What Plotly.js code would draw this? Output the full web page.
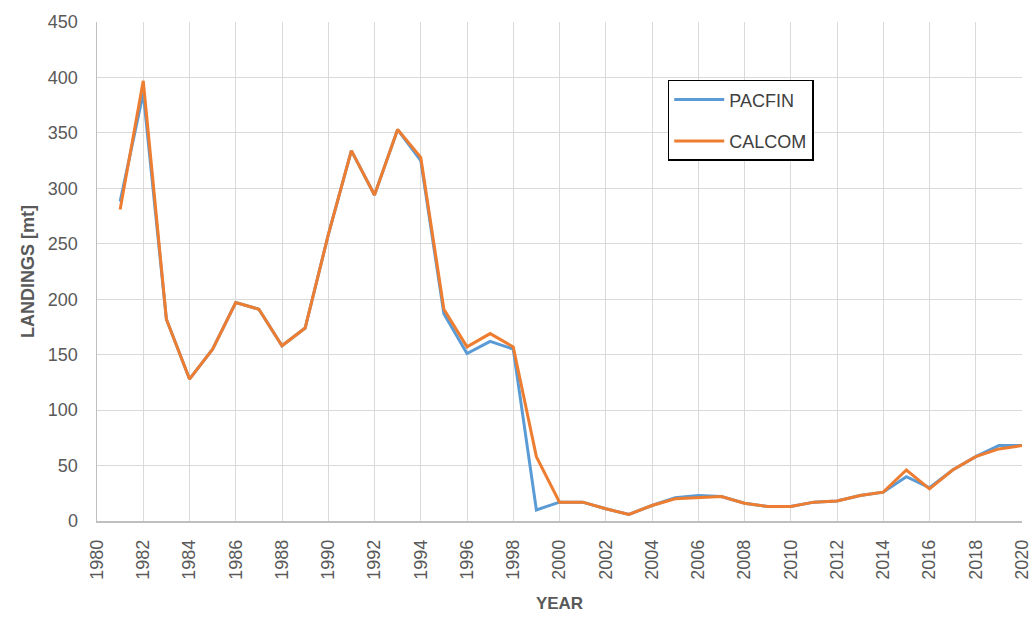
<!DOCTYPE html>
<html>
<head>
<meta charset="utf-8">
<script src="https://cdn.plot.ly/plotly-3.0.1.min.js"></script>
<style>html,body{margin:0;padding:0;background:#fff;}#chart{width:1034px;height:617px;}</style>
</head>
<body>
<div id="chart"></div>
<script>
const years = [1981,1982,1983,1984,1985,1986,1987,1988,1989,1990,1991,1992,1993,1994,1995,1996,1997,1998,1999,2000,2001,2002,2003,2004,2005,2006,2007,2008,2009,2010,2011,2012,2013,2014,2015,2016,2017,2018,2019,2020];
const pacfin = [288,386,182,128,155,197,191,158,174,258,334,294,353,325,187,151,162,155,10,17,17,11,6,14,21,23,22,16,13,13,17,18,23,26,40,30,46,58,68,68];
const calcom = [281,397,182,128,155,197,191,158,174,258,334,294,353,328,191,157,169,157,58,17,17,11,6,14,20,21,22,16,13,13,17,18,23,26,46,29,46,58,65,68];
const xTicks = [1980,1982,1984,1986,1988,1990,1992,1994,1996,1998,2000,2002,2004,2006,2008,2010,2012,2014,2016,2018,2020];
const yTicks = [0,50,100,150,200,250,300,350,400,450];

const font = "'Liberation Sans', Arial, sans-serif";
const traces = [
  {x: years, y: pacfin, name: 'PACFIN', type: 'scatter', mode: 'lines', line: {color: '#5B9BD5', width: 3}, legendgroup: 'a'},
  {x: years, y: calcom, name: 'CALCOM', type: 'scatter', mode: 'lines', line: {color: '#ED7D31', width: 3}, legendgroup: 'b'}
];
const layout = {
  width: 1034, height: 617,
  margin: {l: 97, r: 12, t: 22, b: 96},
  paper_bgcolor: '#fff', plot_bgcolor: '#fff',
  font: {family: font, color: '#595959', size: 17},
  showlegend: true,
  legend: {x: 0.617, y: 0.884, xanchor: 'left', yanchor: 'top', bordercolor: '#000', borderwidth: 1.5,
           font: {size: 18, color: '#404040'}, tracegroupgap: 15, bgcolor: '#fff', itemwidth: 50},
  xaxis: {range: [1980, 2020], tickvals: xTicks, ticktext: xTicks.map(String), tickangle: -90,
          showgrid: true, gridcolor: '#d9d9d9', gridwidth: 1, zeroline: false,
          showline: true, linecolor: '#bfbfbf', linewidth: 1.5, ticks: '', ticklen: 0,
          ticklabelstandoff: 10,
          tickfont: {size: 18, color: '#595959'},
          title: {text: '<b>YEAR</b>', font: {size: 17, color: '#595959'}, standoff: 18}},
  yaxis: {range: [0, 450], tickvals: yTicks, ticktext: yTicks.map(String),
          showgrid: true, gridcolor: '#d9d9d9', gridwidth: 1, zeroline: false,
          showline: true, linecolor: '#bfbfbf', linewidth: 1.5, ticks: '',
          ticklabelstandoff: 14,
          tickfont: {size: 18, color: '#595959'},
          title: {text: '<b>LANDINGS [mt]</b>', font: {size: 18, color: '#595959'}, standoff: 8}}
};
Plotly.newPlot('chart', traces, layout, {displayModeBar: false, staticPlot: true});
</script>
</body>
</html>
